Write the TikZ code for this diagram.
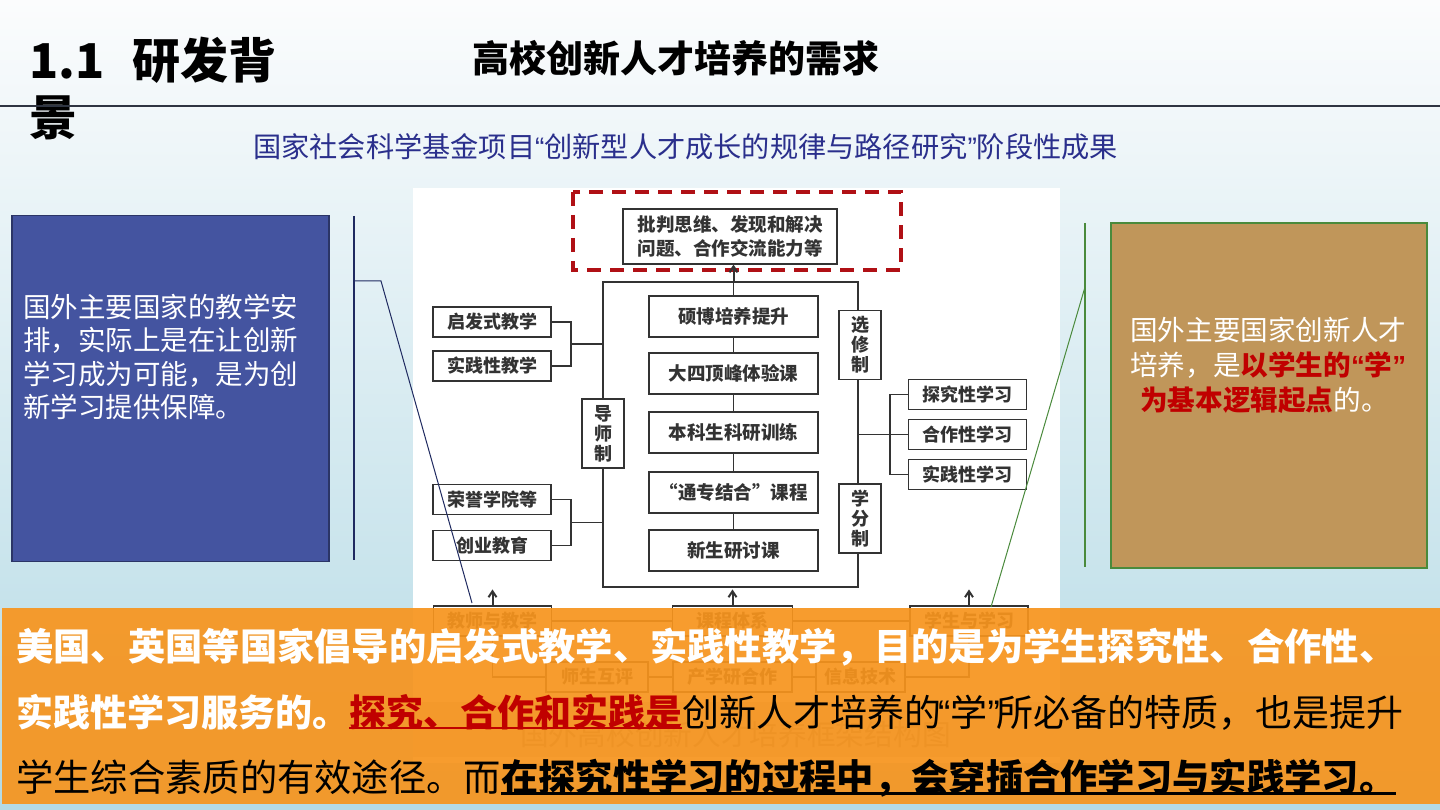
\documentclass[tikz,border=0pt]{standalone}
\usepackage{fontspec}
\setmainfont{Noto Sans CJK SC}
\newfontfamily\quotefont{Liberation Sans}
\usetikzlibrary{arrows.meta, positioning, calc}
\definecolor{cbgtop}{HTML}{FBFCFD}
\definecolor{csky}{HTML}{B4DAE5}
\definecolor{cnavy}{HTML}{2A2F8C}
\definecolor{cnavyline}{HTML}{1F2A60}
\definecolor{cblue}{HTML}{4454A0}
\definecolor{cbluedark}{HTML}{2B3566}
\definecolor{ctan}{HTML}{C0965A}
\definecolor{cgreen}{HTML}{4A8A3C}
\definecolor{corange}{HTML}{F7941D}
\definecolor{cred}{HTML}{C00000}
\definecolor{cdash}{HTML}{B01015}
\definecolor{cscan}{HTML}{333333}
\definecolor{crule}{HTML}{2F3542}
\definecolor{cband}{HTML}{D4D4D4}
\definecolor{ccaption}{HTML}{8A8A8A}
\newcommand{\fs}[2]{\fontsize{#1}{#2}\selectfont}
\newcommand{\oq}{{\quotefont “}}
\newcommand{\cq}{{\quotefont ”}}
\newsavebox{\ulsave}
\newcommand{\ulmark}[1]{\sbox{\ulsave}{#1}\rlap{\usebox{\ulsave}}\rule[-3pt]{\wd\ulsave}{2.4pt}}
\tikzset{
  scanbox/.style={draw=cscan, line width=1.2pt, fill=white, text=cscan, inner sep=0pt,
    font=\fs{18}{20}\bfseries, minimum width=118pt, minimum height=30pt},
  stackbox/.style={scanbox, minimum width=169pt, minimum height=41pt, font=\fs{18.5}{20}\bfseries},
  vbox/.style={scanbox, minimum width=42pt, minimum height=69pt, align=center, font=\fs{18}{20}\bfseries},
  link/.style={draw=cscan, line width=1.2pt},
  uparrow/.style={draw=cscan, line width=2pt, -{Straight Barb[length=6pt, width=8pt]}},
  title/.style={font=\fs{48}{57}\bfseries, align=left, anchor=west, inner sep=0pt},
  panel/.style={line width=1.2pt, inner sep=0pt},
  paneltext/.style={text=white, font=\fs{27.6}{34}, align=left, anchor=west, inner sep=0pt},
}

\begin{document}
\begin{tikzpicture}[x=1pt, y=-1pt]
  \useasboundingbox (0,0) rectangle (1440,810);
  \shade[top color=cbgtop, bottom color=csky] (0,0) rectangle (1440,810);

  % heading
  \node[title] (head) at (29,88.5) {1.1\hspace{28pt}研发背\\景};
  \node[font=\fs{37}{44}\bfseries, anchor=west, inner sep=0pt] (topic) at (472,58) {高校创新人才培养的需求};
  \draw[crule, line width=2pt] (0,106) -- (1440,106);
  \node[font=\fs{28.2}{32}, text=cnavy, anchor=west, inner sep=0pt] (source) at (253,147)
    {国家社会科学基金项目\oq 创新型人才成长的规律与路径研究\cq 阶段性成果};

  % side panels
  \node[panel, draw=cbluedark, fill=cblue, minimum width=317pt, minimum height=346pt] (teach) at (170.5,388.5) {};
  \node[paneltext, font=\fs{27.5}{33.3}] (teachtxt) at (23,357)
    {国外主要国家的教学安\\排，实际上是在让创新\\学习成为可能，是为创\\新学习提供保障。};
  \node[panel, draw=cgreen, fill=ctan, minimum width=316pt, minimum height=345pt] (learn) at (1269,395.5) {};
  \node[paneltext, font=\fs{27.6}{35}] (learntxt) at (1130,365)
    {国外主要国家创新人才\\培养，是{\color{cred}\bfseries 以学生的\oq 学\cq}\\\hspace{10pt}{\color{cred}\bfseries 为基本逻辑起点}的。};

  % framework scan
  \node[fill=white, minimum width=647pt, minimum height=575pt, inner sep=0pt] (scan) at (736.5,475.5) {};
  \fill[cband] (413,702) rectangle (1060,757);
  \node[font=\fs{28.7}{32}, text=ccaption] (caption) at (735.5,735) {国外高校创新人才培养框架结构图};

  \node[scanbox, minimum width=214pt, minimum height=55pt, align=center, font=\fs{18.5}{24}\bfseries] (goal) at (730,236.5)
    {批判思维、发现和解决\\问题、合作交流能力等};
  \draw[cdash, line width=3.5pt, dash pattern=on 14pt off 9pt] (573,192) rectangle (901,270);

  \node[draw=cscan, line width=2.2pt, minimum width=255pt, minimum height=305pt, inner sep=0pt] (frame) at (730.5,434.5) {};
  \node[stackbox] (s1) at (733.5,316.5) {硕博培养提升};
  \node[stackbox] (s2) at (733.5,373.5) {大四顶峰体验课};
  \node[stackbox] (s3) at (733.5,432.5) {本科生科研训练};
  \node[stackbox] (s4) at (733.5,492.5) {“通专结合”课程};
  \node[stackbox] (s5) at (733.5,550.5) {新生研讨课};
  \foreach \a/\b in {s1/s2, s2/s3, s3/s4, s4/s5}
    \draw[link] (\a) -- (\b);
  \draw[link] (s1.north) -- (s1.north |- frame.north);
  \draw[uparrow] (s1.north |- frame.north) -- (s1.north |- goal.south);

  \node[vbox] (tutor) at (603,433.5) {导\\师\\制};
  \node[vbox] (elective) at (860,345) {选\\修\\制};
  \node[vbox] (credit) at (860,518.5) {学\\分\\制};

  \node[scanbox] (l1) at (492,322) {启发式教学};
  \node[scanbox] (l2) at (492,366) {实践性教学};
  \node[scanbox] (l3) at (492,499.5) {荣誉学院等};
  \node[scanbox] (l4) at (492,545.5) {创业教育};
  \coordinate (lj1) at (571,344);
  \coordinate (lj2) at (571,522.5);
  \draw[link] (l1.east) -| (lj1) |- (l2.east);
  \draw[link] (l3.east) -| (lj2) |- (l4.east);
  \draw[link] (lj1) -- (lj1 -| frame.west);
  \draw[link] (lj2) -- (lj2 -| frame.west);

  \node[scanbox] (r1) at (967.5,394.5) {探究性学习};
  \node[scanbox] (r2) at (967.5,434.5) {合作性学习};
  \node[scanbox] (r3) at (967.5,474.5) {实践性学习};
  \coordinate (rj) at (890,434.5);
  \draw[link] (r1.west) -| (rj) |- (r3.west);
  \draw[link] (frame.east |- rj) -- (r2.west);

  \node[scanbox] (b1) at (492.5,621) {教师与教学};
  \node[scanbox, minimum width=120pt] (b2) at (732.5,621) {课程体系};
  \node[scanbox] (b3) at (969,621) {学生与学习};
  \foreach \b in {b1, b2, b3}
    \draw[uparrow] (\b.north) -- ++(0,-16);
  \draw[link] (b1) -- (b2);
  \draw[link] (b2) -- (b3);
  \node[scanbox, minimum width=102pt] (c1) at (597,677) {师生互评};
  \node[scanbox, minimum width=119pt] (c2) at (732.5,677) {产学研合作};
  \node[scanbox, minimum width=89pt] (c3) at (860.5,677) {信息技术};
  \draw[link] (b1.south) |- (c1.west);
  \draw[link] (b3.south) |- (c3.east);
  \draw[link] (c1) -- (c2);
  \draw[link] (c2) -- (c3);

  % callout lines
  \coordinate (ltop) at (354,216); \coordinate (lbot) at (354,560);
  \coordinate (lknee) at (381,281); \coordinate (lend) at (472,603);
  \draw[cnavyline, line width=1.2pt] (ltop) -- (lbot);
  \draw[cnavyline, line width=1pt] (ltop |- lknee) -- (lknee) -- (lend);
  \coordinate (rtop) at (1085,223); \coordinate (rbot) at (1085,567);
  \coordinate (rknee) at (1085,287); \coordinate (rend) at (991,607);
  \draw[cgreen, line width=1.2pt] (rtop) -- (rbot);
  \draw[cgreen, line width=1pt] (rknee) -- (rend);

  % summary band
  \node[fill=corange, fill opacity=0.92, minimum width=1438pt, minimum height=196pt, inner sep=0pt] (band) at (721,706) {};
  \node[anchor=west, align=left, inner sep=0pt, font=\fs{37.3}{65.5}\bfseries, text=white] (summary) at (16,713)
    {美国、英国等国家倡导的启发式教学、实践性教学，目的是为学生探究性、合作性、\\
     {\fs{37}{65.5}实践性学习服务的。{\color{cred}\ulmark{探究、合作和实践是}}{\mdseries\color{black}创新人才培养的\kern-3pt\oq 学\cq\kern-3pt 所必备的特质，也是提升}}\\
     {\mdseries\color{black}学生综合素质的有效途径。而}{\color{black}\ulmark{在探究性学习的过程中，会穿插合作学习与实践学习。}}};
\end{tikzpicture}
\end{document}
